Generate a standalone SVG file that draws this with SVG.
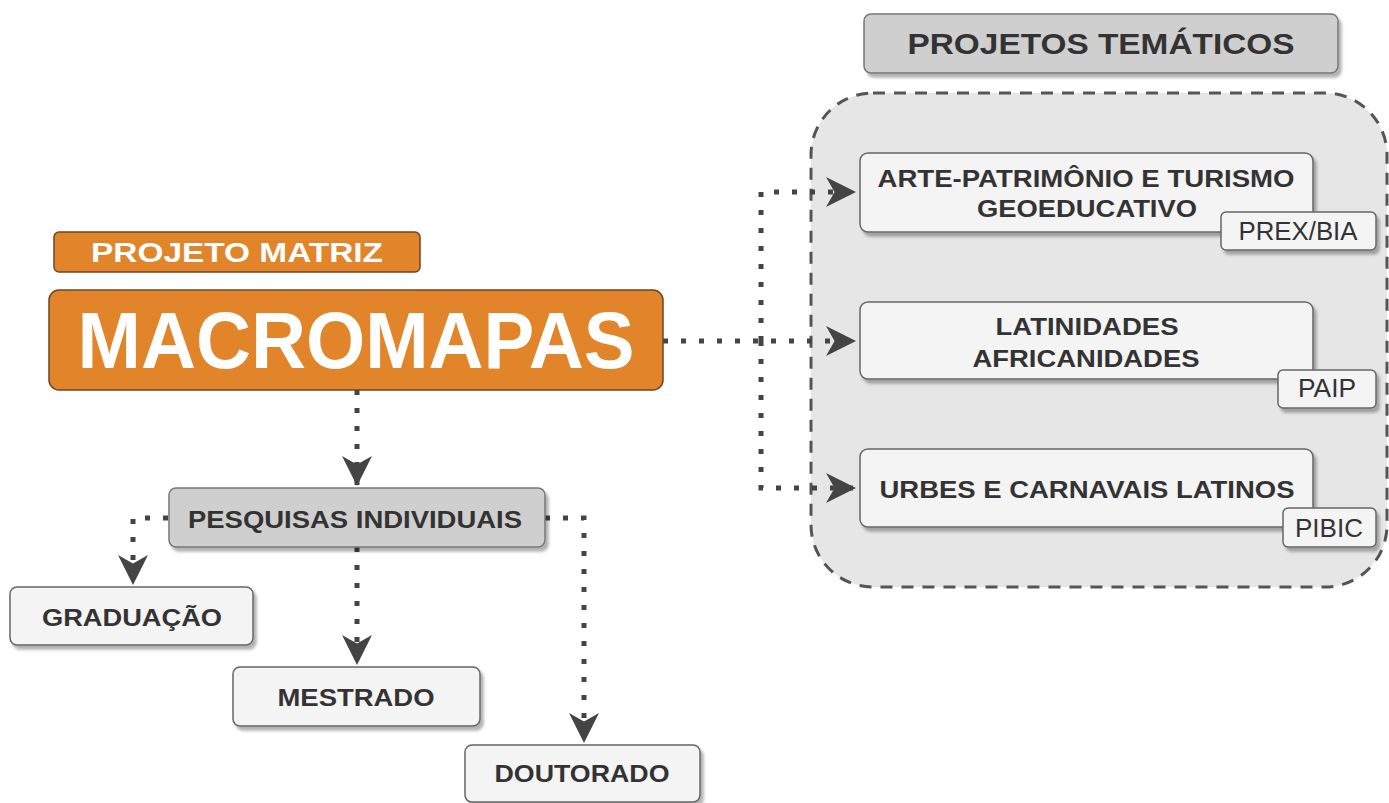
<svg xmlns="http://www.w3.org/2000/svg" width="1389" height="803" viewBox="0 0 1389 803">
<defs>
<filter id="sh" x="-10%" y="-10%" width="130%" height="140%">
<feDropShadow dx="3" dy="4" stdDeviation="1.5" flood-color="#000" flood-opacity="0.3"/>
</filter>
<marker id="arr" markerUnits="userSpaceOnUse" markerWidth="30" markerHeight="30" viewBox="0 0 28 28" refX="28" refY="14" orient="auto">
<path d="M0,0 L28,14 L0,28 L8,14 Z" fill="#444"/>
</marker>
</defs>
<style>
.lbl{font-family:"Liberation Sans",Arial,sans-serif;font-weight:bold;fill:#333;text-anchor:middle}
.tag{font-family:"Liberation Sans",Arial,sans-serif;fill:#333;text-anchor:middle;font-size:25px}
.light{fill:#f4f4f4;stroke:#666;stroke-width:1.5}
.gray{fill:#cfcfcf;stroke:#777;stroke-width:1.5}
.orange{fill:#e2852a;stroke:#6e4520;stroke-width:1.5}
.conn{fill:none;stroke:#444;stroke-width:5;stroke-dasharray:5 13}
</style>
<rect width="1389" height="803" fill="#fff"/>

<g id="container">
<rect x="811" y="93" width="576" height="494" rx="62" fill="#e6e6e6" stroke="#555" stroke-width="3" stroke-dasharray="12 9"/>
</g>

<g id="connectors">
<path class="conn" d="M663,341 H856" marker-end="url(#arr)"/>
<path class="conn" d="M761,341 V192 H856" marker-end="url(#arr)"/>
<path class="conn" d="M761,341 V488 H856" marker-end="url(#arr)"/>
<path class="conn" d="M357,390 V486" marker-end="url(#arr)"/>
<path class="conn" d="M168,518 H133 V585" marker-end="url(#arr)"/>
<path class="conn" d="M357,547 V665" marker-end="url(#arr)"/>
<path class="conn" d="M545,518 H584 V743" marker-end="url(#arr)"/>
</g>

<g id="projeto-matriz">
<rect class="orange" x="54" y="232" width="366" height="40" rx="5"/>
<text x="237" y="262" font-family="Liberation Sans, Arial, sans-serif" font-weight="bold" font-size="27" fill="#fff" text-anchor="middle" textLength="292" lengthAdjust="spacingAndGlyphs">PROJETO MATRIZ</text>
</g>

<g id="macromapas">
<rect class="orange" x="49" y="290" width="614" height="100" rx="10"/>
<text x="356" y="368" font-family="Liberation Sans, Arial, sans-serif" font-weight="bold" font-size="79" fill="#fff" text-anchor="middle" textLength="557" lengthAdjust="spacingAndGlyphs">MACROMAPAS</text>
</g>

<g id="projetos-tematicos">
<rect class="gray" x="864" y="14" width="474" height="59" rx="7" filter="url(#sh)"/>
<text class="lbl" x="1101" y="54" font-size="30" textLength="387" lengthAdjust="spacingAndGlyphs">PROJETOS TEMÁTICOS</text>
</g>

<g id="arte">
<rect class="light" x="860" y="153" width="453" height="79" rx="8" filter="url(#sh)"/>
<text class="lbl" x="1086" y="187" font-size="24" textLength="417" lengthAdjust="spacingAndGlyphs">ARTE-PATRIMÔNIO E TURISMO</text>
<text class="lbl" x="1087" y="217" font-size="24" textLength="220" lengthAdjust="spacingAndGlyphs">GEOEDUCATIVO</text>
</g>
<g id="tag-prex">
<rect class="light" x="1221" y="212" width="155" height="38" rx="5" filter="url(#sh)"/>
<text class="tag" x="1298" y="240" textLength="119" lengthAdjust="spacingAndGlyphs">PREX/BIA</text>
</g>

<g id="latinidades">
<rect class="light" x="860" y="302" width="453" height="77" rx="8" filter="url(#sh)"/>
<text class="lbl" x="1087" y="335" font-size="24" textLength="183" lengthAdjust="spacingAndGlyphs">LATINIDADES</text>
<text class="lbl" x="1086" y="367" font-size="24" textLength="227" lengthAdjust="spacingAndGlyphs">AFRICANIDADES</text>
</g>
<g id="tag-paip">
<rect class="light" x="1278" y="370" width="98" height="38" rx="5" filter="url(#sh)"/>
<text class="tag" x="1327" y="397" textLength="58" lengthAdjust="spacingAndGlyphs">PAIP</text>
</g>

<g id="urbes">
<rect class="light" x="860" y="449" width="453" height="78" rx="8" filter="url(#sh)"/>
<text class="lbl" x="1087" y="498" font-size="24" textLength="415" lengthAdjust="spacingAndGlyphs">URBES E CARNAVAIS LATINOS</text>
</g>
<g id="tag-pibic">
<rect class="light" x="1283" y="508" width="93" height="39" rx="5" filter="url(#sh)"/>
<text class="tag" x="1329" y="537" textLength="68" lengthAdjust="spacingAndGlyphs">PIBIC</text>
</g>

<g id="pesquisas">
<rect class="gray" x="169" y="488" width="376" height="59" rx="7" filter="url(#sh)"/>
<text class="lbl" x="355" y="528" font-size="24" textLength="334" lengthAdjust="spacingAndGlyphs">PESQUISAS INDIVIDUAIS</text>
</g>

<g id="graduacao">
<rect class="light" x="10" y="587" width="243" height="58" rx="7" filter="url(#sh)"/>
<text class="lbl" x="132" y="626" font-size="24" textLength="180" lengthAdjust="spacingAndGlyphs">GRADUAÇÃO</text>
</g>

<g id="mestrado">
<rect class="light" x="233" y="667" width="247" height="59" rx="7" filter="url(#sh)"/>
<text class="lbl" x="356" y="706" font-size="24" textLength="157" lengthAdjust="spacingAndGlyphs">MESTRADO</text>
</g>

<g id="doutorado">
<rect class="light" x="465" y="745" width="235" height="57" rx="7" filter="url(#sh)"/>
<text class="lbl" x="582" y="782" font-size="24" textLength="175" lengthAdjust="spacingAndGlyphs">DOUTORADO</text>
</g>
</svg>
